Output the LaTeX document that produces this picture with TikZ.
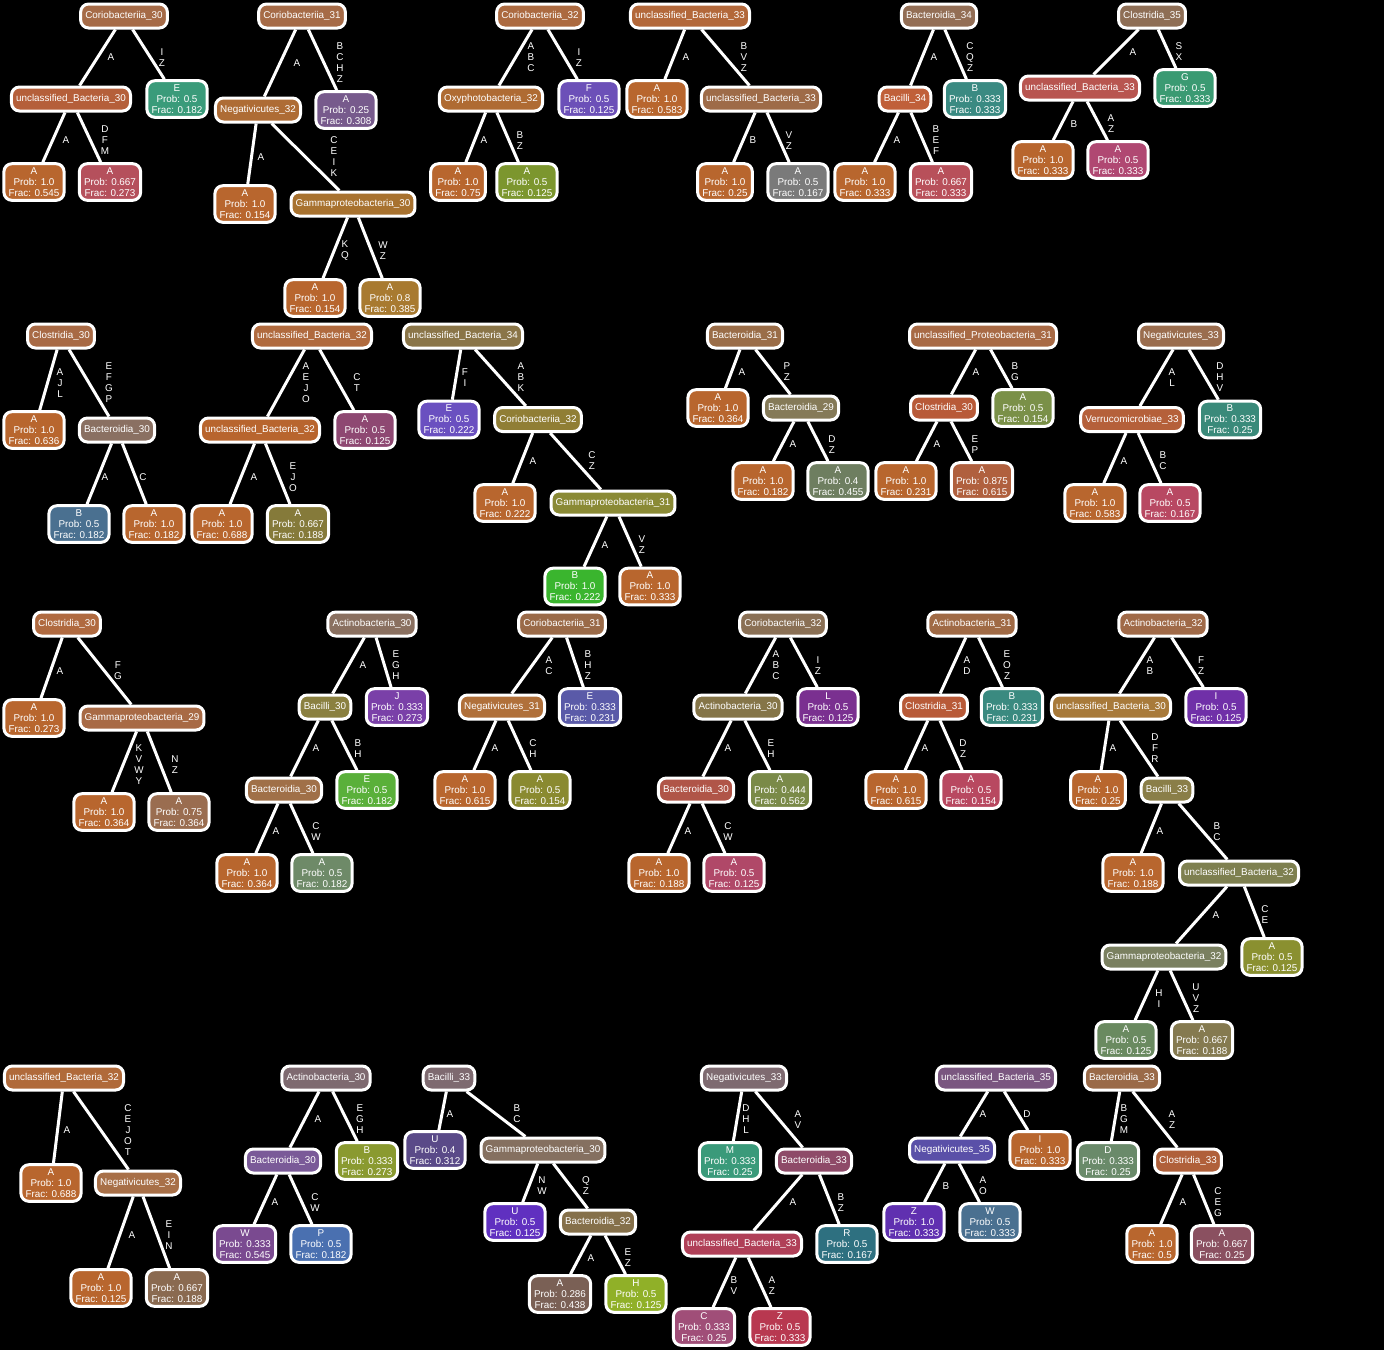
\documentclass[tikz,border=0pt]{standalone}
\usepackage{fontspec}
\setmainfont{Liberation Sans}
\newcommand\tfnt{\fontsize{7.4pt}{8.25pt}\selectfont}
\newcommand\edg[5]{\draw[ed] (#1) -- (#2); \node[el] (#1-#2) at (#3,#4) {#5};}
\begin{document}
\begin{tikzpicture}[x=0.75pt,y=-0.75pt,
  tn/.style={draw=white, line width=2.25pt, rounded corners=6pt, text=white, font=\tfnt, align=center, inner xsep=3.5pt, inner ysep=2.9pt, minimum height=18pt},
  hx/.code={\definecolor{hxc}{HTML}{#1}\pgfkeysalso{fill=hxc}},
  ed/.style={draw=white, line width=2.25pt},
  el/.style={text=white, font=\tfnt, align=center, inner sep=0pt}]
\fill[black] (0,0) rectangle (1384,1350);
\useasboundingbox (0,0) rectangle (1384,1350);
% Tree 1
\node[tn,hx=A66B47] (a1) at (124,16) {Coriobacteriia\_30};
\node[tn,hx=B55F3A] (a2) at (71,99) {unclassified\_Bacteria\_30};
\node[tn,hx=3A9B7A] (a3) at (177,99) {E\\Prob: 0.5\\Frac: 0.182};
\node[tn,hx=B8662E] (a4) at (34,182) {A\\Prob: 1.0\\Frac: 0.545};
\node[tn,hx=B5505C] (a5) at (110,182) {A\\Prob: 0.667\\Frac: 0.273};
\edg{a1}{a2}{111}{57.5}{A}
\edg{a1}{a3}{162}{57.5}{I\\Z}
\edg{a2}{a4}{66}{140.5}{A}
\edg{a2}{a5}{105}{140.5}{D\\F\\M}
% Tree 2
\node[tn,hx=A66B47] (b1) at (302,16) {Coriobacteriia\_31};
\node[tn,hx=AE6C35] (b2) at (258,110) {Negativicutes\_32};
\node[tn,hx=775A8C] (b3) at (346,110) {A\\Prob: 0.25\\Frac: 0.308};
\node[tn,hx=B8662E] (b4) at (245,204) {A\\Prob: 1.0\\Frac: 0.154};
\node[tn,hx=A8722F] (b5) at (353,204) {Gammaproteobacteria\_30};
\node[tn,hx=B8662E] (b6) at (315,298) {A\\Prob: 1.0\\Frac: 0.154};
\node[tn,hx=A87A30] (b7) at (390,298) {A\\Prob: 0.8\\Frac: 0.385};
\edg{b1}{b2}{297}{63}{A}
\edg{b1}{b3}{340}{63}{B\\C\\H\\Z}
\edg{b2}{b4}{261}{157}{A}
\edg{b2}{b5}{334}{157}{C\\E\\I\\K}
\edg{b5}{b6}{345}{251}{K\\Q}
\edg{b5}{b7}{383}{251}{W\\Z}
% Tree 3
\node[tn,hx=AC6A40] (c1) at (540,16) {Coriobacteriia\_32};
\node[tn,hx=AF6B33] (c2) at (491,99) {Oxyphotobacteria\_32};
\node[tn,hx=6C50B8] (c3) at (589,99) {F\\Prob: 0.5\\Frac: 0.125};
\node[tn,hx=B8662E] (c4) at (458,182) {A\\Prob: 1.0\\Frac: 0.75};
\node[tn,hx=7C962E] (c5) at (527,182) {A\\Prob: 0.5\\Frac: 0.125};
\edg{c1}{c2}{531}{57.5}{A\\B\\C}
\edg{c1}{c3}{579}{57.5}{I\\Z}
\edg{c2}{c4}{484}{140.5}{A}
\edg{c2}{c5}{520}{140.5}{B\\Z}
% Tree 4
\node[tn,hx=B3683A] (d1) at (690,16) {unclassified\_Bacteria\_33};
\node[tn,hx=B8662E] (d2) at (657,99) {A\\Prob: 1.0\\Frac: 0.583};
\node[tn,hx=9E6B48] (d3) at (761,99) {unclassified\_Bacteria\_33};
\node[tn,hx=B8662E] (d4) at (725,182) {A\\Prob: 1.0\\Frac: 0.25};
\node[tn,hx=7A7A7A] (d5) at (798,182) {A\\Prob: 0.5\\Frac: 0.167};
\edg{d1}{d2}{686}{57.5}{A}
\edg{d1}{d3}{744}{57.5}{B\\V\\Z}
\edg{d3}{d4}{753}{140.5}{B}
\edg{d3}{d5}{789}{140.5}{V\\Z}
% Tree 5
\node[tn,hx=936E55] (e1) at (939,16) {Bacteroidia\_34};
\node[tn,hx=C0603A] (e2) at (905,99) {Bacilli\_34};
\node[tn,hx=3A8A82] (e3) at (975,99) {B\\Prob: 0.333\\Frac: 0.333};
\node[tn,hx=B8662E] (e4) at (865,182) {A\\Prob: 1.0\\Frac: 0.333};
\node[tn,hx=B8505A] (e5) at (941,182) {A\\Prob: 0.667\\Frac: 0.333};
\edg{e1}{e2}{934}{57.5}{A}
\edg{e1}{e3}{970}{57.5}{C\\Q\\Z}
\edg{e2}{e4}{897}{140.5}{A}
\edg{e2}{e5}{936}{140.5}{B\\E\\F}
% Tree 6
\node[tn,hx=8E6E55] (f1) at (1152,16) {Clostridia\_35};
\node[tn,hx=B85550] (f2) at (1080,88) {unclassified\_Bacteria\_33};
\node[tn,hx=3A9A72] (f3) at (1185,88) {G\\Prob: 0.5\\Frac: 0.333};
\node[tn,hx=B8662E] (f4) at (1043,160) {A\\Prob: 1.0\\Frac: 0.333};
\node[tn,hx=B04872] (f5) at (1118,160) {A\\Prob: 0.5\\Frac: 0.333};
\edg{f1}{f2}{1133}{52}{A}
\edg{f1}{f3}{1179}{52}{S\\X}
\edg{f2}{f4}{1074}{124}{B}
\edg{f2}{f5}{1111}{124}{A\\Z}
% Tree 7
\node[tn,hx=A86A45] (g1) at (61,336) {Clostridia\_30};
\node[tn,hx=B8662E] (g2) at (34,430) {A\\Prob: 1.0\\Frac: 0.636};
\node[tn,hx=8A7062] (g3) at (117,430) {Bacteroidia\_30};
\node[tn,hx=4A7090] (g4) at (79,524) {B\\Prob: 0.5\\Frac: 0.182};
\node[tn,hx=B8662E] (g5) at (154,524) {A\\Prob: 1.0\\Frac: 0.182};
\edg{g1}{g2}{60}{383}{A\\J\\L}
\edg{g1}{g3}{109}{383}{E\\F\\G\\P}
\edg{g3}{g4}{105}{477}{A}
\edg{g3}{g5}{143}{477}{C}
% Tree 8
\node[tn,hx=B06A3E] (h1) at (312,336) {unclassified\_Bacteria\_32};
\node[tn,hx=B8652E] (h2) at (260,430) {unclassified\_Bacteria\_32};
\node[tn,hx=8E4872] (h3) at (365,430) {A\\Prob: 0.5\\Frac: 0.125};
\node[tn,hx=B8662E] (h4) at (222,524) {A\\Prob: 1.0\\Frac: 0.688};
\node[tn,hx=857A3A] (h5) at (298,524) {A\\Prob: 0.667\\Frac: 0.188};
\edg{h1}{h2}{306}{383}{A\\E\\J\\O}
\edg{h1}{h3}{357}{383}{C\\T}
\edg{h2}{h4}{254}{477}{A}
\edg{h2}{h5}{293}{477}{E\\J\\O}
% Tree 9
\node[tn,hx=8A7548] (i1) at (463,336) {unclassified\_Bacteria\_34};
\node[tn,hx=6A50C0] (i2) at (449,419.5) {E\\Prob: 0.5\\Frac: 0.222};
\node[tn,hx=907E35] (i3) at (538,419.5) {Coriobacteriia\_32};
\node[tn,hx=B8662E] (i4) at (505,503) {A\\Prob: 1.0\\Frac: 0.222};
\node[tn,hx=8A8A35] (i5) at (613,503) {Gammaproteobacteria\_31};
\node[tn,hx=3AB52E] (i6) at (575,586.5) {B\\Prob: 1.0\\Frac: 0.222};
\node[tn,hx=B8662E] (i7) at (650,586.5) {A\\Prob: 1.0\\Frac: 0.333};
\edg{i1}{i2}{465}{377.5}{F\\I}
\edg{i1}{i3}{521}{377.5}{A\\B\\K}
\edg{i3}{i4}{533}{461}{A}
\edg{i3}{i5}{592}{461}{C\\Z}
\edg{i5}{i6}{605}{545}{A}
\edg{i5}{i7}{642}{545}{V\\Z}
% Tree 10
\node[tn,hx=9A6D48] (j1) at (745,336) {Bacteroidia\_31};
\node[tn,hx=B8662E] (j2) at (718,408) {A\\Prob: 1.0\\Frac: 0.364};
\node[tn,hx=857A58] (j3) at (801,408) {Bacteroidia\_29};
\node[tn,hx=B8662E] (j4) at (763,481) {A\\Prob: 1.0\\Frac: 0.182};
\node[tn,hx=6E7E60] (j5) at (838,481) {A\\Prob: 0.4\\Frac: 0.455};
\edg{j1}{j2}{742}{372}{A}
\edg{j1}{j3}{787}{372}{P\\Z}
\edg{j3}{j4}{793}{444.5}{A}
\edg{j3}{j5}{832}{444.5}{D\\Z}
% Tree 11
\node[tn,hx=A86A45] (k1) at (983,336) {unclassified\_Proteobacteria\_31};
\node[tn,hx=B85A38] (k2) at (944,408) {Clostridia\_30};
\node[tn,hx=7A9048] (k3) at (1023,408) {A\\Prob: 0.5\\Frac: 0.154};
\node[tn,hx=B8662E] (k4) at (906,481) {A\\Prob: 1.0\\Frac: 0.231};
\node[tn,hx=B0603E] (k5) at (982,481) {A\\Prob: 0.875\\Frac: 0.615};
\edg{k1}{k2}{976}{372}{A}
\edg{k1}{k3}{1015}{372}{B\\G}
\edg{k2}{k4}{937}{444.5}{A}
\edg{k2}{k5}{975}{444.5}{E\\P}
% Tree 12
\node[tn,hx=9A6D4E] (l1) at (1181,336) {Negativicutes\_33};
\node[tn,hx=B5603A] (l2) at (1132,419.5) {Verrucomicrobiae\_33};
\node[tn,hx=3A8A7A] (l3) at (1230,419.5) {B\\Prob: 0.333\\Frac: 0.25};
\node[tn,hx=B8662E] (l4) at (1095,503) {A\\Prob: 1.0\\Frac: 0.583};
\node[tn,hx=B84862] (l5) at (1170,503) {A\\Prob: 0.5\\Frac: 0.167};
\edg{l1}{l2}{1172}{377.5}{A\\L}
\edg{l1}{l3}{1220}{377.5}{D\\H\\V}
\edg{l2}{l4}{1124}{461}{A}
\edg{l2}{l5}{1163}{461}{B\\C}
% Tree 13
\node[tn,hx=B06A40] (m1) at (67,624) {Clostridia\_30};
\node[tn,hx=B8662E] (m2) at (34,718) {A\\Prob: 1.0\\Frac: 0.273};
\node[tn,hx=A86A45] (m3) at (142,718) {Gammaproteobacteria\_29};
\node[tn,hx=B8662E] (m4) at (104,812) {A\\Prob: 1.0\\Frac: 0.364};
\node[tn,hx=9A6D50] (m5) at (179,812) {A\\Prob: 0.75\\Frac: 0.364};
\edg{m1}{m2}{60}{671}{A}
\edg{m1}{m3}{118}{671}{F\\G}
\edg{m3}{m4}{139}{765}{K\\V\\W\\Y}
\edg{m3}{m5}{175}{765}{N\\Z}
% Tree 14
\node[tn,hx=8A7060] (n1) at (372,624) {Actinobacteria\_30};
\node[tn,hx=8A8040] (n2) at (325,707) {Bacilli\_30};
\node[tn,hx=7A40A8] (n3) at (397,707) {J\\Prob: 0.333\\Frac: 0.273};
\node[tn,hx=A07048] (n4) at (284,790) {Bacteroidia\_30};
\node[tn,hx=5AB03A] (n5) at (367,790) {E\\Prob: 0.5\\Frac: 0.182};
\node[tn,hx=B8662E] (n6) at (247,873) {A\\Prob: 1.0\\Frac: 0.364};
\node[tn,hx=6E8A68] (n7) at (322,873) {A\\Prob: 0.5\\Frac: 0.182};
\edg{n1}{n2}{363}{665.5}{A}
\edg{n1}{n3}{396}{665.5}{E\\G\\H}
\edg{n2}{n4}{316}{748.5}{A}
\edg{n2}{n5}{358}{748.5}{B\\H}
\edg{n4}{n6}{276}{831.5}{A}
\edg{n4}{n7}{316}{831.5}{C\\W}
% Tree 15
\node[tn,hx=9A6A48] (o1) at (562,624) {Coriobacteriia\_31};
\node[tn,hx=B0703A] (o2) at (502,707) {Negativicutes\_31};
\node[tn,hx=5A5AA8] (o3) at (590,707) {E\\Prob: 0.333\\Frac: 0.231};
\node[tn,hx=B8662E] (o4) at (465,790) {A\\Prob: 1.0\\Frac: 0.615};
\node[tn,hx=8A8A30] (o5) at (540,790) {A\\Prob: 0.5\\Frac: 0.154};
\edg{o1}{o2}{549}{665.5}{A\\C}
\edg{o1}{o3}{588}{665.5}{B\\H\\Z}
\edg{o2}{o4}{495}{748.5}{A}
\edg{o2}{o5}{533}{748.5}{C\\H}
% Tree 16
\node[tn,hx=8A7055] (p1) at (783,624) {Coriobacteriia\_32};
\node[tn,hx=857548] (p2) at (738,707) {Actinobacteria\_30};
\node[tn,hx=7A3090] (p3) at (828,707) {L\\Prob: 0.5\\Frac: 0.125};
\node[tn,hx=B05548] (p4) at (696,790) {Bacteroidia\_30};
\node[tn,hx=7A8A48] (p5) at (780,790) {A\\Prob: 0.444\\Frac: 0.562};
\node[tn,hx=B8662E] (p6) at (659,873) {A\\Prob: 1.0\\Frac: 0.188};
\node[tn,hx=B04868] (p7) at (734,873) {A\\Prob: 0.5\\Frac: 0.125};
\edg{p1}{p2}{776}{665.5}{A\\B\\C}
\edg{p1}{p3}{818}{665.5}{I\\Z}
\edg{p2}{p4}{728}{748.5}{A}
\edg{p2}{p5}{771}{748.5}{E\\H}
\edg{p4}{p6}{688}{831.5}{A}
\edg{p4}{p7}{728}{831.5}{C\\W}
% Tree 17
\node[tn,hx=A06A45] (q1) at (972,624) {Actinobacteria\_31};
\node[tn,hx=B85A38] (q2) at (934,707) {Clostridia\_31};
\node[tn,hx=3A8A80] (q3) at (1012,707) {B\\Prob: 0.333\\Frac: 0.231};
\node[tn,hx=B8662E] (q4) at (896,790) {A\\Prob: 1.0\\Frac: 0.615};
\node[tn,hx=B84860] (q5) at (971,790) {A\\Prob: 0.5\\Frac: 0.154};
\edg{q1}{q2}{967}{665.5}{A\\D}
\edg{q1}{q3}{1007}{665.5}{E\\O\\Z}
\edg{q2}{q4}{925}{748.5}{A}
\edg{q2}{q5}{963}{748.5}{D\\Z}
% Tree 18
\node[tn,hx=A06A48] (r1) at (1163,624) {Actinobacteria\_32};
\node[tn,hx=A87A3A] (r2) at (1111,707) {unclassified\_Bacteria\_30};
\node[tn,hx=7030A8] (r3) at (1216,707) {I\\Prob: 0.5\\Frac: 0.125};
\node[tn,hx=B8662E] (r4) at (1098,790) {A\\Prob: 1.0\\Frac: 0.25};
\node[tn,hx=8A7E48] (r5) at (1167,790) {Bacilli\_33};
\node[tn,hx=B8662E] (r6) at (1133,873) {A\\Prob: 1.0\\Frac: 0.188};
\node[tn,hx=7E8050] (r7) at (1239,873) {unclassified\_Bacteria\_32};
\node[tn,hx=7A8060] (r8) at (1164,957) {Gammaproteobacteria\_32};
\node[tn,hx=8A9030] (r9) at (1272,957) {A\\Prob: 0.5\\Frac: 0.125};
\node[tn,hx=6A8A60] (r10) at (1126,1040) {A\\Prob: 0.5\\Frac: 0.125};
\node[tn,hx=857A50] (r11) at (1202,1040) {A\\Prob: 0.667\\Frac: 0.188};
\edg{r1}{r2}{1150}{665.5}{A\\B}
\edg{r1}{r3}{1201}{665.5}{F\\Z}
\edg{r2}{r4}{1113}{748.5}{A}
\edg{r2}{r5}{1155}{748.5}{D\\F\\R}
\edg{r5}{r6}{1160}{831.5}{A}
\edg{r5}{r7}{1217}{831.5}{B\\C}
\edg{r7}{r8}{1216}{915}{A}
\edg{r7}{r9}{1265}{915}{C\\E}
\edg{r8}{r10}{1159}{998.5}{H\\I}
\edg{r8}{r11}{1196}{998.5}{U\\V\\Z}
% Tree 19
\node[tn,hx=B06A3A] (s1) at (64,1078) {unclassified\_Bacteria\_32};
\node[tn,hx=B8662E] (s2) at (51,1183) {A\\Prob: 1.0\\Frac: 0.688};
\node[tn,hx=A87048] (s3) at (138,1183) {Negativicutes\_32};
\node[tn,hx=B8662E] (s4) at (101,1288) {A\\Prob: 1.0\\Frac: 0.125};
\node[tn,hx=8A6A50] (s5) at (177,1288) {A\\Prob: 0.667\\Frac: 0.188};
\edg{s1}{s2}{67}{1130.5}{A}
\edg{s1}{s3}{128}{1130.5}{C\\E\\J\\O\\T}
\edg{s3}{s4}{132}{1235.5}{A}
\edg{s3}{s5}{169}{1235.5}{E\\I\\N}
% Tree 20
\node[tn,hx=7E6A70] (t1) at (326,1078) {Actinobacteria\_30};
\node[tn,hx=7A5A98] (t2) at (283,1161) {Bacteroidia\_30};
\node[tn,hx=8A9A30] (t3) at (367,1161) {B\\Prob: 0.333\\Frac: 0.273};
\node[tn,hx=7A4A90] (t4) at (245,1244) {W\\Prob: 0.333\\Frac: 0.545};
\node[tn,hx=4A70B0] (t5) at (321,1244) {P\\Prob: 0.5\\Frac: 0.182};
\edg{t1}{t2}{318}{1119.5}{A}
\edg{t1}{t3}{360}{1119.5}{E\\G\\H}
\edg{t2}{t4}{275}{1202.5}{A}
\edg{t2}{t5}{315}{1202.5}{C\\W}
% Tree 21
\node[tn,hx=7E6A70] (u1) at (449,1078) {Bacilli\_33};
\node[tn,hx=5A4A88] (u2) at (435,1150) {U\\Prob: 0.4\\Frac: 0.312};
\node[tn,hx=857060] (u3) at (543,1150) {Gammaproteobacteria\_30};
\node[tn,hx=6030C0] (u4) at (515,1222) {U\\Prob: 0.5\\Frac: 0.125};
\node[tn,hx=85704A] (u5) at (598,1222) {Bacteroidia\_32};
\node[tn,hx=7A6055] (u6) at (560,1294) {A\\Prob: 0.286\\Frac: 0.438};
\node[tn,hx=90B028] (u7) at (636,1294) {H\\Prob: 0.5\\Frac: 0.125};
\edg{u1}{u2}{450}{1114}{A}
\edg{u1}{u3}{517}{1114}{B\\C}
\edg{u3}{u4}{542}{1186}{N\\W}
\edg{u3}{u5}{586}{1186}{Q\\Z}
\edg{u5}{u6}{591}{1258}{A}
\edg{u5}{u7}{628}{1258}{E\\Z}
% Tree 22
\node[tn,hx=7E6A70] (v1) at (744,1078) {Negativicutes\_33};
\node[tn,hx=3A9A7A] (v2) at (730,1161) {M\\Prob: 0.333\\Frac: 0.25};
\node[tn,hx=8E4A68] (v3) at (814,1161) {Bacteroidia\_33};
\node[tn,hx=B04058] (v4) at (742,1244) {unclassified\_Bacteria\_33};
\node[tn,hx=2E7080] (v5) at (847,1244) {R\\Prob: 0.5\\Frac: 0.167};
\node[tn,hx=A04E78] (v6) at (704,1327) {C\\Prob: 0.333\\Frac: 0.25};
\node[tn,hx=B83850] (v7) at (780,1327) {Z\\Prob: 0.5\\Frac: 0.333};
\edg{v1}{v2}{746}{1119.5}{D\\H\\L}
\edg{v1}{v3}{798}{1119.5}{A\\V}
\edg{v3}{v4}{793}{1202.5}{A}
\edg{v3}{v5}{841}{1202.5}{B\\Z}
\edg{v4}{v6}{734}{1285.5}{B\\V}
\edg{v4}{v7}{772}{1285.5}{A\\Z}
% Tree 23
\node[tn,hx=7A5680] (w1) at (996,1078) {unclassified\_Bacteria\_35};
\node[tn,hx=5A50A8] (w2) at (952,1150) {Negativicutes\_35};
\node[tn,hx=B8662E] (w3) at (1040,1150) {I\\Prob: 1.0\\Frac: 0.333};
\node[tn,hx=6030B0] (w4) at (914,1222) {Z\\Prob: 1.0\\Frac: 0.333};
\node[tn,hx=4A7090] (w5) at (990,1222) {W\\Prob: 0.5\\Frac: 0.333};
\edg{w1}{w2}{983}{1114}{A}
\edg{w1}{w3}{1027}{1114}{D}
\edg{w2}{w4}{946}{1186}{B}
\edg{w2}{w5}{983}{1186}{A\\O}
% Tree 24
\node[tn,hx=9A6A48] (x1) at (1122,1078) {Bacteroidia\_33};
\node[tn,hx=6A8A6A] (x2) at (1108,1161) {D\\Prob: 0.333\\Frac: 0.25};
\node[tn,hx=B0603A] (x3) at (1188,1161) {Clostridia\_33};
\node[tn,hx=B8662E] (x4) at (1152,1244) {A\\Prob: 1.0\\Frac: 0.5};
\node[tn,hx=8A5060] (x5) at (1222,1244) {A\\Prob: 0.667\\Frac: 0.25};
\edg{x1}{x2}{1124}{1119.5}{B\\G\\M}
\edg{x1}{x3}{1172}{1119.5}{A\\Z}
\edg{x3}{x4}{1183}{1202.5}{A}
\edg{x3}{x5}{1218}{1202.5}{C\\E\\G}
\end{tikzpicture}
\end{document}
